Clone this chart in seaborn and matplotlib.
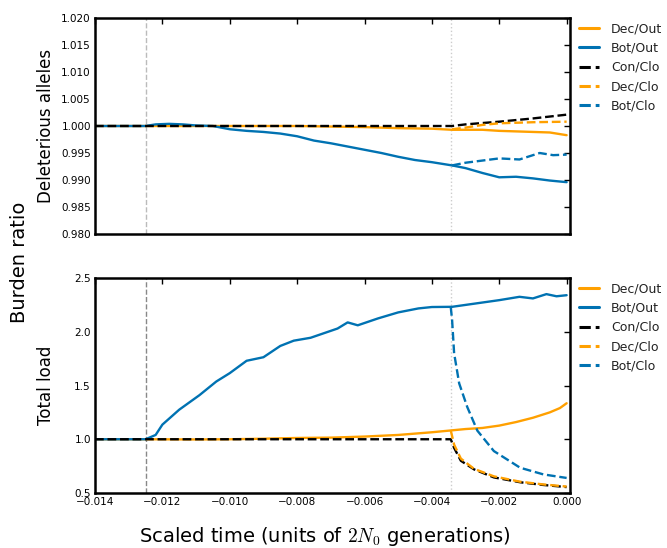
import matplotlib
matplotlib.use("Agg")
import matplotlib.pyplot as plt
import seaborn as sns
import numpy as np

# ---------------- data ----------------
# Top panel: deleterious alleles ratio
t_top_dec_out = [-0.014, -0.0125, -0.010, -0.008, -0.006, -0.005, -0.004, -0.0034, -0.003, -0.0025,
                 -0.002, -0.0015, -0.001, -0.0005, 0.0]
v_top_dec_out = [1.0, 1.0, 1.0, 1.0, 0.9998, 0.9996, 0.9995, 0.9993, 0.9993, 0.9993,
                 0.9991, 0.9990, 0.9989, 0.9988, 0.9983]

t_top_bot_out = [-0.014, -0.0125, -0.0122, -0.0118, -0.0114, -0.011, -0.0105, -0.010, -0.0095, -0.009,
                 -0.0085, -0.008, -0.0075, -0.007, -0.0065, -0.006, -0.0055, -0.005, -0.0045, -0.004,
                 -0.0034, -0.003, -0.0025, -0.002, -0.0015, -0.001, -0.0005, 0.0]
v_top_bot_out = [1.0, 1.0, 1.0003, 1.0004, 1.0003, 1.0001, 1.0000, 0.9994, 0.9991, 0.9989,
                 0.9986, 0.9981, 0.9973, 0.9968, 0.9962, 0.9956, 0.9950, 0.9943, 0.9937, 0.9933,
                 0.9927, 0.9922, 0.9913, 0.9905, 0.9906, 0.9903, 0.9899, 0.9896]

t_top_con_clo = [-0.014, -0.0034, -0.003, -0.002, -0.001, 0.0]
v_top_con_clo = [1.0, 1.0, 1.0003, 1.0008, 1.0014, 1.0021]

t_top_dec_clo = [-0.0034, -0.003, -0.0025, -0.002, -0.001, 0.0]
v_top_dec_clo = [0.9994, 0.9997, 1.0002, 1.0005, 1.0007, 1.0008]

t_top_bot_clo = [-0.0034, -0.003, -0.0025, -0.002, -0.0014, -0.0008, -0.0004, 0.0]
v_top_bot_clo = [0.9927, 0.9932, 0.9936, 0.9940, 0.9938, 0.9950, 0.9946, 0.9947]

# Bottom panel: total load ratio
t_bot_dec_out = [-0.014, -0.0125, -0.011, -0.010, -0.009, -0.008, -0.007, -0.006, -0.005, -0.004,
                 -0.0034, -0.003, -0.0025, -0.002, -0.0015, -0.001, -0.0005, -0.0002, 0.0]
v_bot_dec_out = [1.0, 1.0, 0.998, 1.0, 1.005, 1.012, 1.015, 1.025, 1.04, 1.065,
                 1.083, 1.095, 1.105, 1.127, 1.16, 1.20, 1.25, 1.29, 1.335]

t_bot_bot_out = [-0.014, -0.0125, -0.0122, -0.0120, -0.0115, -0.0109, -0.0104, -0.0100, -0.0095,
                 -0.0090, -0.0085, -0.0081, -0.0076, -0.0068, -0.0065, -0.0062, -0.0056, -0.0050,
                 -0.0044, -0.0040, -0.0034, -0.0027, -0.0020, -0.0014, -0.0010, -0.0006, -0.0003, 0.0]
v_bot_bot_out = [1.0, 1.0, 1.04, 1.136, 1.275, 1.41, 1.537, 1.615, 1.73,
                 1.763, 1.868, 1.917, 1.944, 2.03, 2.087, 2.06, 2.124, 2.18,
                 2.217, 2.23, 2.232, 2.263, 2.294, 2.325, 2.31, 2.35, 2.33, 2.34]

t_bot_con_clo = [-0.014, -0.00344, -0.00334, -0.00314, -0.00275, -0.00216, -0.00138, -0.0007, 0.0]
v_bot_con_clo = [1.0, 1.0, 0.92, 0.80, 0.72, 0.645, 0.60, 0.575, 0.555]

t_bot_dec_clo = [-0.00344, -0.00334, -0.00314, -0.00275, -0.00216, -0.00138, -0.0007, 0.0]
v_bot_dec_clo = [1.083, 0.95, 0.82, 0.725, 0.655, 0.605, 0.58, 0.56]

t_bot_bot_clo = [-0.00344, -0.0034, -0.00334, -0.00319, -0.00295, -0.00265, -0.00216, -0.00138, -0.00069, 0.0]
v_bot_bot_clo = [2.23, 2.11, 1.80, 1.52, 1.30, 1.08, 0.89, 0.735, 0.673, 0.64]

labels = ["Dec/Out", "Bot/Out", "Con/Clo", "Dec/Clo", "Bot/Clo"]
x_ticks = [-0.014, -0.012, -0.010, -0.008, -0.006, -0.004, -0.002, 0.000]
top_yticks = [0.980, 0.985, 0.990, 0.995, 1.000, 1.005, 1.010, 1.015, 1.020]
bot_yticks = [0.5, 1.0, 1.5, 2.0, 2.5]
t_bottleneck = -0.0125
t_closure = -0.00344

# ---------------- style ----------------
sns.set_style("white")
plt.rcParams["font.family"] = ["DejaVu Sans"]
plt.rcParams["mathtext.fontset"] = "cm"
plt.rcParams["text.color"] = "black"
plt.rcParams["axes.labelcolor"] = "black"

ORANGE = "#FFA000"
BLUE = "#0072B2"
BLACK = "#000000"

fig = plt.figure(figsize=(6.67, 5.48), dpi=100)
ax1 = fig.add_axes([95/667, 1-234/548, 475/667, 216/548])
ax2 = fig.add_axes([95/667, 1-493/548, 475/667, 215/548])

def draw(ax, series):
    for (t, v, color, ls), lab in zip(series, labels):
        sns.lineplot(x=t, y=v, ax=ax, color=color, linestyle=ls, lw=1.7, label=lab,
                     estimator=None, sort=False)

draw(ax1, [
    (t_top_dec_out, v_top_dec_out, ORANGE, "-"),
    (t_top_bot_out, v_top_bot_out, BLUE, "-"),
    (t_top_con_clo, v_top_con_clo, BLACK, "--"),
    (t_top_dec_clo, v_top_dec_clo, ORANGE, "--"),
    (t_top_bot_clo, v_top_bot_clo, BLUE, "--"),
])
draw(ax2, [
    (t_bot_dec_out, v_bot_dec_out, ORANGE, "-"),
    (t_bot_bot_out, v_bot_bot_out, BLUE, "-"),
    (t_bot_con_clo, v_bot_con_clo, BLACK, "--"),
    (t_bot_dec_clo, v_bot_dec_clo, ORANGE, "--"),
    (t_bot_bot_clo, v_bot_bot_clo, BLUE, "--"),
])

ax1.axvline(t_bottleneck, color="#bbbbbb", ls="--", lw=1, zorder=0)
ax2.axvline(t_bottleneck, color="#888888", ls="--", lw=1, zorder=0)
for ax in (ax1, ax2):
    ax.axvline(t_closure, color="#cccccc", ls=":", lw=1, zorder=0)

ax1.set_ylim(0.980, 1.020)
ax1.set_yticks(top_yticks)
ax1.set_yticklabels([f"{v:.3f}" for v in top_yticks])
ax2.set_ylim(0.5, 2.5)
ax2.set_yticks(bot_yticks)
ax2.set_yticklabels([f"{v:.1f}" for v in bot_yticks])

for ax in (ax1, ax2):
    ax.set_xlim(-0.014, 0.0001)
    ax.set_xticks(x_ticks)
    ax.tick_params(direction="in", top=True, right=True, length=4, width=1,
                   labelsize=7.5, pad=3, colors="black")
    for s in ax.spines.values():
        s.set_linewidth(1.8)
        s.set_color("black")
    ax.set_xlabel("")
    leg = ax.legend(loc="upper left", bbox_to_anchor=(1.0, 1.02), frameon=False, fontsize=9,
                    handlelength=1.6, handletextpad=1.0, labelspacing=0.5, borderaxespad=0.3)
    for h in leg.legend_handles:
        h.set_linewidth(2.2)
    for txt in leg.get_texts():
        txt.set_color("#222222")
ax1.set_xticklabels([])
ax2.set_xticklabels(["\u22120.014", "\u22120.012", "\u22120.010", "\u22120.008", "\u22120.006",
                     "\u22120.004", "\u22120.002", "0.000"])

ax1.set_ylabel("Deleterious alleles", fontsize=12)
ax2.set_ylabel("Total load", fontsize=12)
ax1.yaxis.set_label_coords(-0.084, 0.5)
ax2.yaxis.set_label_coords(-0.084, 0.5)

fig.text(20/667, 1-262/548, "Burden ratio", rotation=90, fontsize=14, ha="center", va="center")
fig.text(325/667, 1-537/548, r"Scaled time (units of $2N_0$ generations)", fontsize=14,
         ha="center", va="center")

fig.savefig("out.png", dpi=100)
